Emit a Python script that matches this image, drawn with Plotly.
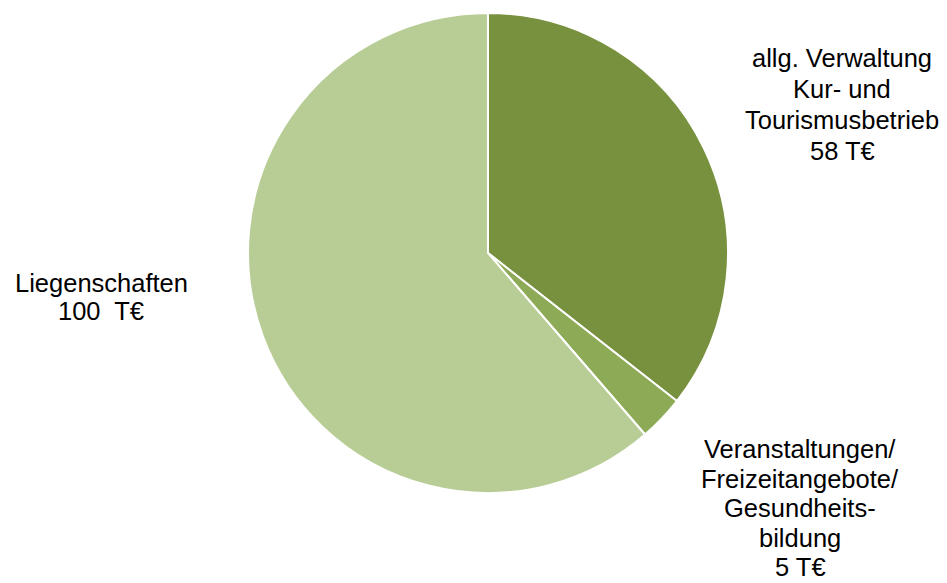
import plotly.graph_objects as go

categories = ["allg. Verwaltung Kur- und Tourismusbetrieb",
              "Veranstaltungen/ Freizeitangebote/ Gesundheitsbildung",
              "Liegenschaften"]
values = [58, 5, 100]
label_lines = [
    ["allg. Verwaltung", "Kur- und", "Tourismusbetrieb", "58 T€"],
    ["Veranstaltungen/", "Freizeitangebote/", "Gesundheits-", "bildung", "5 T€"],
    ["Liegenschaften", "100  T€"],
]
colors = ["#77913F", "#8DAA56", "#B8CD95"]

W, H = 947, 583
cx, cy, r = 488, 253, 240

fig = go.Figure(go.Pie(
    labels=categories, values=values, sort=False, direction="clockwise",
    rotation=0, textinfo="none", hoverinfo="label+value",
    marker=dict(colors=colors, line=dict(color="white", width=2)),
    domain=dict(x=[(cx - r) / W, (cx + r) / W], y=[(H - cy - r) / H, (H - cy + r) / H]),
    showlegend=False,
))

# label block anchors (center x, first line center y, line spacing) in pixels
blocks = [(842, 58, 31), (800, 449, 29.5), (101, 283, 28)]
annotations = []
for lines, (bx, by, sp) in zip(label_lines, blocks):
    for i, line in enumerate(lines):
        annotations.append(dict(
            x=bx / W, y=1 - (by + i * sp) / H, xref="paper", yref="paper",
            text=line, showarrow=False, xanchor="center", yanchor="middle",
            font=dict(family="Liberation Sans, Arial", size=25.5, color="#000000"),
        ))

fig.update_layout(
    width=W, height=H, margin=dict(l=0, r=0, t=0, b=0),
    paper_bgcolor="white", plot_bgcolor="white",
    annotations=annotations,
)
fig.write_html("out.html", config={"displayModeBar": False},
               post_script="document.body.style.margin='0';document.body.style.overflow='hidden';")
